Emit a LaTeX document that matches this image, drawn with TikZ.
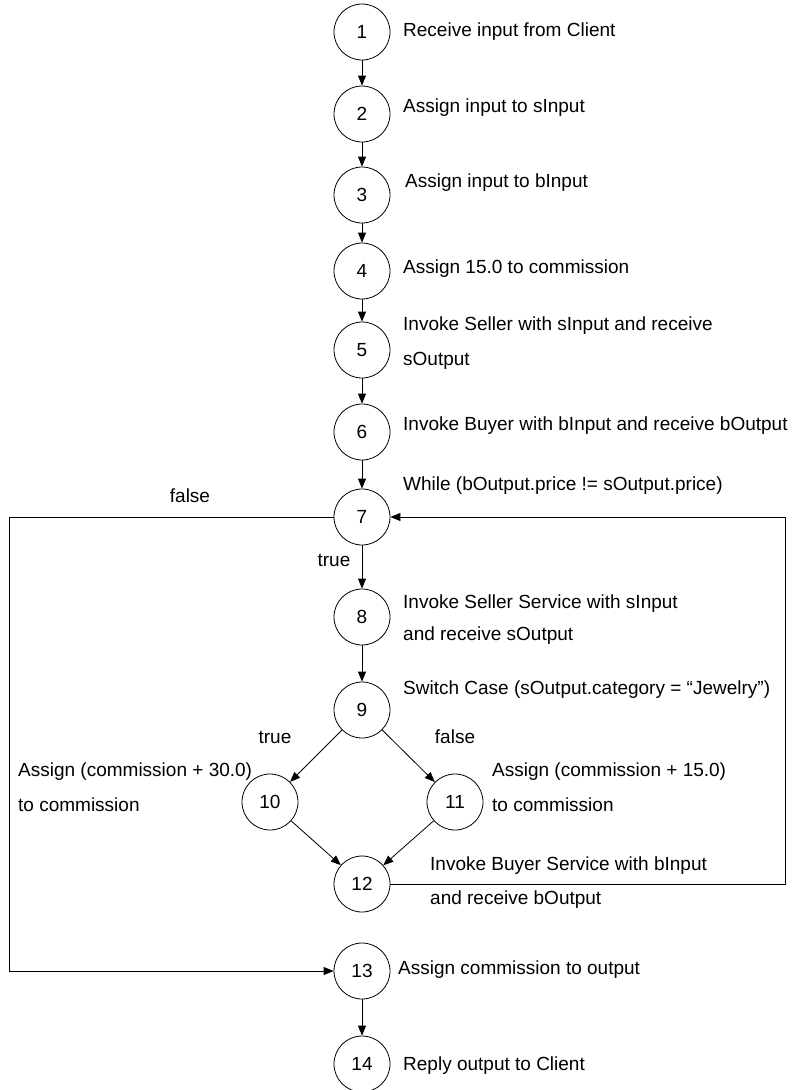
\documentclass[tikz,border=0pt]{standalone}
\usepackage{fontspec}
\setmainfont{Liberation Sans}
\usetikzlibrary{arrows.meta}
\begin{document}
\begin{tikzpicture}[x=1pt,y=-1pt,
  state/.style={draw,circle,line width=0.8pt,minimum size=56pt,inner sep=0pt,font=\fontsize{19}{22}\selectfont},
  txt/.style={anchor=west,inner sep=0pt,font=\fontsize{19}{22}\selectfont},
  lbl/.style={inner sep=0pt,font=\fontsize{19}{22}\selectfont},
  arr/.style={-{Triangle[length=10pt,width=8pt]},line width=0.8pt},
  ln/.style={line width=0.8pt}]
\useasboundingbox (0,0) rectangle (797,1090);
\node[state] (n1) at (362,32) {1};
\node[state] (n2) at (362,114) {2};
\node[state] (n3) at (362,195) {3};
\node[state] (n4) at (362,271) {4};
\node[state] (n5) at (362,350) {5};
\node[state] (n6) at (362,432) {6};
\node[state] (n7) at (362,517) {7};
\node[state] (n8) at (362,617) {8};
\node[state] (n9) at (362,710) {9};
\node[state] (n10) at (270,802) {10};
\node[state] (n11) at (455,802) {11};
\node[state] (n12) at (362,884) {12};
\node[state] (n13) at (362,971) {13};
\node[state] (n14) at (362,1064) {14};

\node[txt] (t1) at (403,32) {Receive input from Client};
\node[txt] (t2) at (403,108) {Assign input to sInput};
\node[txt] (t3) at (405,183) {Assign input to bInput};
\node[txt] (t4) at (403,269) {Assign 15.0 to commission};
\node[txt] (t5a) at (403,326) {Invoke Seller with sInput and receive};
\node[txt] (t5b) at (403,361) {sOutput};
\node[txt] (t6) at (403,426) {Invoke Buyer with bInput and receive bOutput};
\node[txt] (t7) at (403,486) {While (bOutput.price != sOutput.price)};
\node[txt] (t8a) at (403,604) {Invoke Seller Service with sInput};
\node[txt] (t8b) at (403,636) {and receive sOutput};
\node[txt] (t9) at (403,690) {Switch Case (sOutput.category = “Jewelry”)};
\node[txt] (t10a) at (18,772) {Assign (commission + 30.0)};
\node[txt] (t10b) at (18,805) {to commission};
\node[txt] (t11a) at (492,772) {Assign (commission + 15.0)};
\node[txt] (t11b) at (492,805) {to commission};
\node[txt] (t12a) at (430,866) {Invoke Buyer Service with bInput};
\node[txt] (t12b) at (430,900) {and receive bOutput};
\node[txt] (t13) at (398,970) {Assign commission to output};
\node[txt] (t14) at (403,1066) {Reply output to Client};

\node[lbl] (lf7) at (190,496) {false};
\node[lbl] (lt7) at (334,560) {true};
\node[lbl] (lt9) at (275,737) {true};
\node[lbl] (lf9) at (455,737) {false};

\draw[arr] (n1) -- (n2);
\draw[arr] (n2) -- (n3);
\draw[arr] (n3) -- (n4);
\draw[arr] (n4) -- (n5);
\draw[arr] (n5) -- (n6);
\draw[arr] (n6) -- (n7);
\draw[arr] (n7) -- (n8);
\draw[arr] (n8) -- (n9);
\draw[arr] (n9) -- (n10);
\draw[arr] (n9) -- (n11);
\draw[arr] (n10) -- (n12);
\draw[arr] (n11) -- (n12);
\draw[arr] (n12.east) -- ++(395,0) |- (n7.east);
\draw[arr] (n7.west) -- ++(-324,0) |- (n13.west);
\draw[arr] (n13) -- (n14);
\end{tikzpicture}
\end{document}
